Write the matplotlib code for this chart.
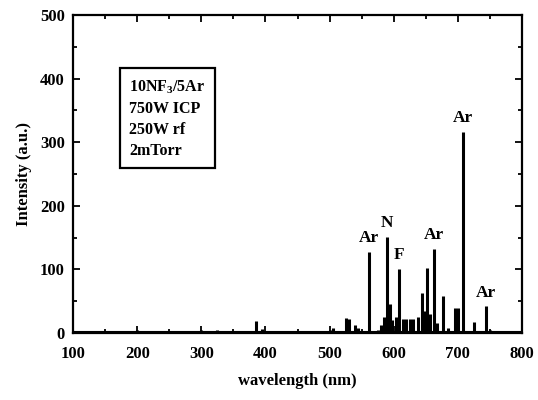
import matplotlib
matplotlib.use("Agg")
import matplotlib.pyplot as plt
from matplotlib.ticker import MultipleLocator

# emission lines (nm, a.u.)
wavelength = [190, 200, 240, 300, 325, 332, 386, 395, 500, 505, 525, 530, 540, 545,
              562, 575, 580, 585, 590, 594, 598, 603, 609, 615, 620, 625, 630, 638,
              644, 648, 652, 656, 663, 668, 677, 685, 696, 701, 708, 725, 744, 750]
intensity = [3, 5, 2, 5, 5, 3, 19, 7, 4, 8, 24, 22, 12, 8,
             128, 5, 12, 25, 151, 45, 20, 25, 101, 22, 22, 22, 22, 25,
             63, 35, 102, 30, 132, 15, 58, 8, 39, 39, 316, 17, 42, 5]

peak_names = ["Ar", "N", "F", "Ar", "Ar", "Ar"]
peak_nm = [562, 590, 609, 663, 708, 744]
peak_val = [128, 151, 101, 132, 316, 42]

conditions = ["10NF$_3$/5Ar", "750W ICP", "250W rf", "2mTorr"]

plt.rcParams["font.family"] = ["Liberation Serif", "DejaVu Serif"]
plt.rcParams["font.weight"] = "bold"
plt.rcParams["mathtext.fontset"] = "custom"
plt.rcParams["mathtext.rm"] = "Liberation Serif:bold"

fig = plt.figure(figsize=(5.38, 4.0), dpi=100)
ax = fig.add_axes([0.136, 0.1675, 0.834, 0.795])

ax.vlines(wavelength, 0, intensity, color="black", linewidth=2.2)
ax.axhline(1.5, color="black", linewidth=1.5)

for name, x, y in zip(peak_names, peak_nm, peak_val):
    ax.annotate(name, (x, y), xytext=(0, 4), textcoords="offset points",
                ha="center", va="bottom", fontsize=12.5, fontweight="bold")

ax.text(0.125, 0.80, "\n".join(conditions), transform=ax.transAxes,
        fontsize=11.5, fontweight="bold", va="top", ha="left", linespacing=1.4,
        bbox=dict(boxstyle="square,pad=0.6", facecolor="white",
                  edgecolor="black", linewidth=1.6))

ax.set_xlim(100, 800)
ax.set_ylim(0, 500)
ax.xaxis.set_major_locator(MultipleLocator(100))
ax.xaxis.set_minor_locator(MultipleLocator(50))
ax.yaxis.set_major_locator(MultipleLocator(100))
ax.yaxis.set_minor_locator(MultipleLocator(50))
ax.tick_params(which="both", direction="in", top=True, right=True,
               labelsize=12, width=1.3)
ax.tick_params(axis="x", pad=9)
ax.tick_params(axis="y", pad=6)
ax.tick_params(which="major", length=5)
ax.tick_params(which="minor", length=3)
for lbl in ax.get_xticklabels() + ax.get_yticklabels():
    lbl.set_fontweight("bold")
for sp in ax.spines.values():
    sp.set_linewidth(1.6)

ax.set_xlabel("wavelength (nm)", fontsize=12, fontweight="bold", labelpad=8)
ax.set_ylabel("Intensity (a.u.)", fontsize=12, fontweight="bold", labelpad=6)

fig.savefig("out.png", dpi=100)
